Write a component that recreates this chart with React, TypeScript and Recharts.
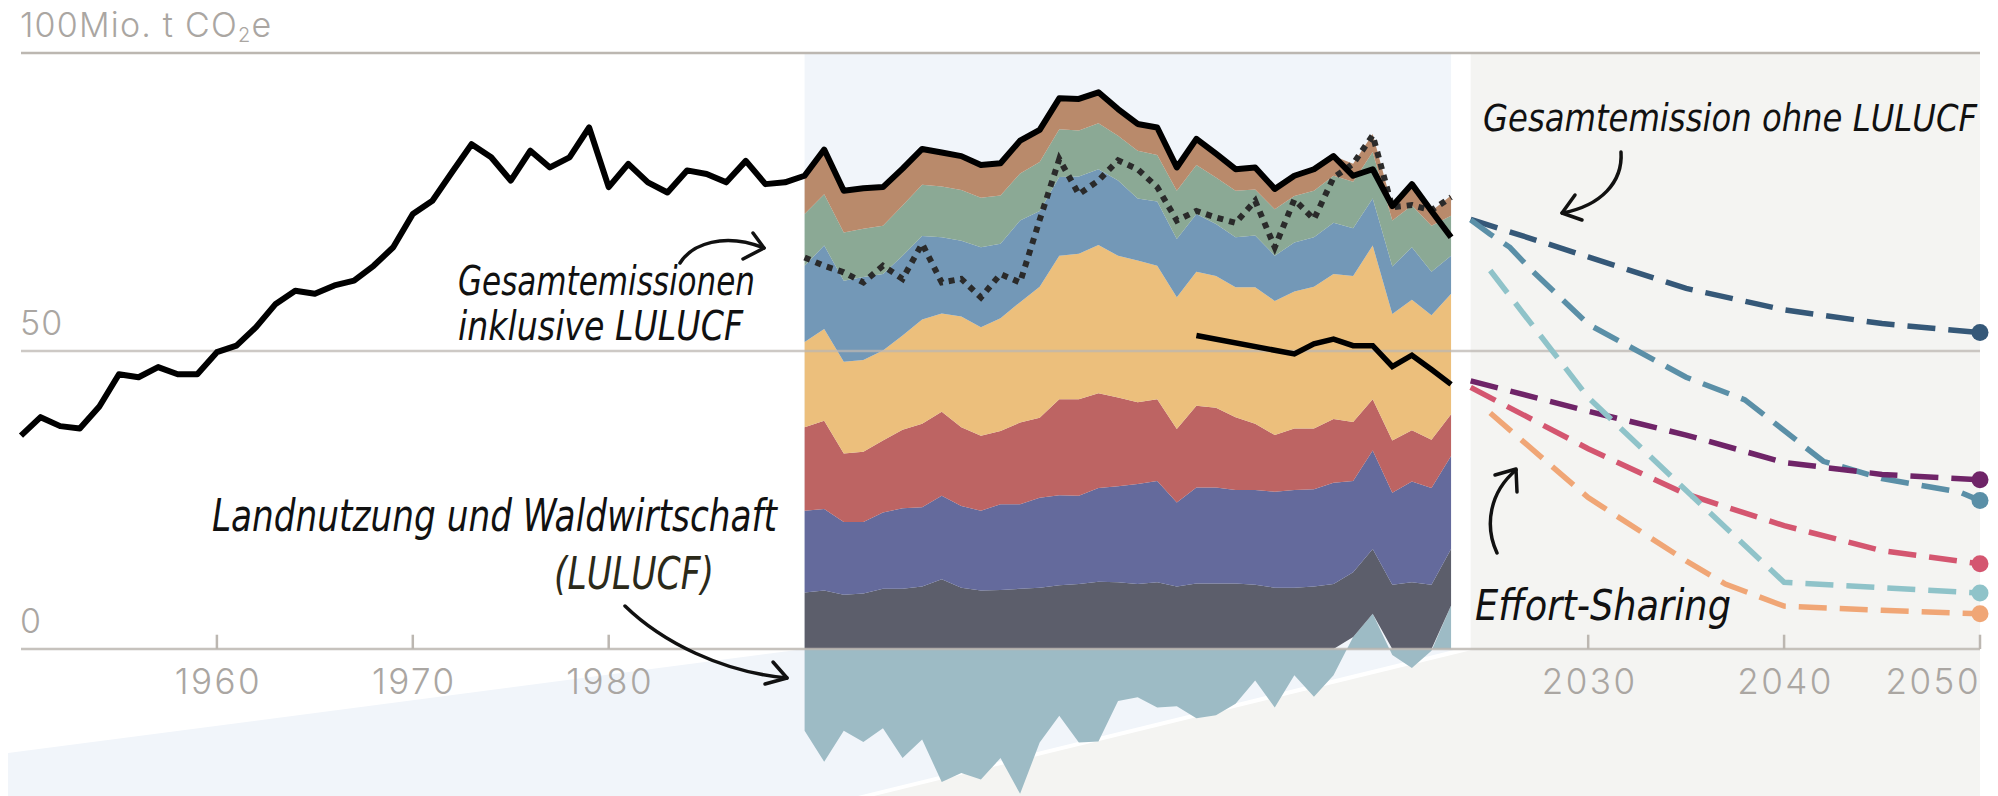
import React from "react";
import { ComposedChart, Area, Line, XAxis, YAxis, ReferenceLine } from "recharts";

const W = 1998;
const H = 796;
const margin = { top: 53, right: 18, left: 21, bottom: 0 };
const X_MIN = 1950;
const X_MAX = 2050;
const Y_MIN = -24.66;
const Y_MAX = 100;

// Gesamtemissionen ohne LULUCF, 1950–2023
const histYears = [
  1950, 1951, 1952, 1953, 1954, 1955, 1956, 1957, 1958, 1959,
  1960, 1961, 1962, 1963, 1964, 1965, 1966, 1967, 1968, 1969,
  1970, 1971, 1972, 1973, 1974, 1975, 1976, 1977, 1978, 1979,
  1980, 1981, 1982, 1983, 1984, 1985, 1986, 1987, 1988, 1989,
  1990, 1991, 1992, 1993, 1994, 1995, 1996, 1997, 1998, 1999,
  2000, 2001, 2002, 2003, 2004, 2005, 2006, 2007, 2008, 2009,
  2010, 2011, 2012, 2013, 2014, 2015, 2016, 2017, 2018, 2019,
  2020, 2021, 2022, 2023,
];
const totalExcl = [
  35.8, 38.9, 37.4, 37.0, 40.7, 46.1, 45.6, 47.3, 46.1, 46.1,
  49.8, 50.9, 54.0, 57.9, 60.1, 59.6, 61.0, 61.8, 64.3, 67.4,
  73.0, 75.2, 80.0, 84.7, 82.5, 78.6, 83.6, 80.8, 82.5, 87.5,
  77.5, 81.4, 78.3, 76.6, 80.3, 79.7, 78.3, 81.9, 78.0, 78.3,
  79.4, 83.8, 76.9, 77.3, 77.5, 80.6, 83.9, 83.3, 82.7, 81.2,
  81.5, 85.3, 87.1, 92.4, 92.3, 93.4, 90.6, 88.1, 87.5, 80.8,
  85.6, 83.1, 80.5, 80.8, 77.2, 79.4, 80.5, 82.7, 79.4, 80.5,
  74.3, 78.0, 73.5, 69.1,
];

// sectors 1990–2023 (stacked from the bottom)
const sectorStart = 1990;
const lulucf = [
  -13.7, -18.9, -13.7, -15.6, -13.3, -18.3, -15.2, -22.3, -20.8, -21.9,
  -18.3, -24.3, -15.7, -11.2, -15.7, -15.5, -8.7, -8.1, -9.8, -9.6,
  -11.6, -11.1, -9.2, -5.3, -9.8, -4.4, -8.0, -4.4, 2.0, 5.9,
  -1.0, -3.2, -0.3, 7.3,
];
const energie = [
  9.5, 9.8, 9.1, 9.3, 10.1, 10.1, 10.5, 11.7, 10.3, 9.8,
  9.9, 10.1, 10.3, 10.7, 10.9, 11.3, 11.2, 10.9, 11.2, 10.5,
  11.0, 11.0, 11.0, 10.8, 10.3, 10.3, 10.5, 10.9, 10.9, 10.9,
  10.8, 11.2, 10.8, 9.5,
];
const industrie = [
  13.7, 13.7, 12.2, 12.0, 12.8, 13.5, 13.3, 14.0, 13.7, 13.4,
  14.4, 14.2, 15.1, 15.1, 14.8, 15.7, 16.1, 16.8, 17.0, 14.1,
  16.1, 16.1, 15.7, 15.9, 16.1, 16.4, 16.3, 17.0, 15.3, 16.5,
  15.4, 16.9, 16.2, 15.6,
];
const energieIndustrie = [
  14.0, 14.8, 11.5, 11.8, 12.1, 13.2, 14.0, 14.1, 13.2, 12.6,
  12.3, 13.7, 13.4, 16.1, 16.2, 15.9, 14.9, 13.7, 13.7, 12.3,
  13.7, 13.4, 12.2, 11.1, 9.5, 10.3, 10.2, 10.7, 9.9, 8.6,
  8.8, 8.6, 8.1, 7.0,
];
const verkehr = [
  14.3, 15.4, 15.4, 15.4, 15.1, 15.8, 17.5, 16.5, 18.6, 18.2,
  18.9, 20.2, 22.0, 24.1, 24.4, 24.9, 23.8, 23.8, 22.4, 22.1,
  22.5, 22.1, 21.8, 22.9, 22.5, 23.0, 23.8, 24.3, 24.5, 25.8,
  21.2, 21.9, 20.9, 20.2,
];
const gebaeude = [
  12.8, 14.0, 13.6, 13.9, 12.8, 13.4, 14.0, 12.8, 12.7, 13.4,
  12.5, 13.7, 12.7, 13.2, 13.0, 12.7, 12.6, 10.4, 10.8, 9.8,
  9.7, 8.7, 8.4, 8.7, 7.6, 8.2, 8.3, 8.6, 8.0, 7.9,
  8.0, 8.8, 7.3, 6.4,
];
const landwirtschaft = [
  8.7, 8.6, 8.1, 8.1, 8.1, 8.4, 8.6, 8.5, 8.5, 8.3,
  8.1, 7.9, 8.2, 8.0, 7.7, 7.7, 7.5, 8.0, 7.8, 8.1,
  8.2, 7.8, 7.8, 7.7, 7.8, 7.8, 7.8, 7.9, 7.8, 7.8,
  7.7, 7.0, 7.7, 6.7,
];
const abfall = [
  6.4, 7.5, 7.0, 6.8, 6.5, 6.2, 6.0, 5.7, 5.7, 5.5,
  5.4, 5.5, 5.4, 5.3, 5.3, 5.2, 4.5, 4.5, 4.6, 3.9,
  4.4, 4.0, 3.6, 3.7, 3.4, 3.4, 3.6, 3.3, 3.0, 3.0,
  2.4, 3.6, 2.5, 3.4,
];
// Gesamtemissionen inklusive LULUCF, 1990–2023
const totalIncl = [
  65.7, 64.3, 63.2, 61.5, 64.3, 62.1, 68.0, 61.5, 62.1, 59.0,
  62.9, 61.5, 72.0, 82.2, 76.3, 78.6, 82.0, 80.5, 77.5, 71.9,
  73.5, 72.4, 71.5, 75.2, 67.4, 75.4, 72.1, 79.1, 81.4, 86.2,
  74.1, 74.5, 73.6, 75.8,
];
// Effort-Sharing, tatsächlich
const esrYears = [2010, 2015, 2016, 2017, 2018, 2019, 2020, 2021, 2022, 2023];
const esrValues = [52.6, 49.5, 51.2, 52.0, 50.9, 50.9, 47.4, 49.3, 46.9, 44.4];

// Szenarien 2024–2050
const projNavyYears = [2024, 2030, 2035, 2040, 2045, 2050];
const projNavy = [72.1, 65.8, 60.5, 56.9, 54.6, 53.1];
const projSteelYears = [2024, 2025, 2026, 2027, 2030, 2035, 2038, 2042, 2045, 2049, 2050];
const projSteel = [72.0, 69.6, 67.4, 63.9, 54.5, 45.6, 41.8, 31.5, 28.6, 26.3, 24.9];
const projPurpleYears = [2024, 2030, 2035, 2040, 2045, 2050];
const projPurple = [45.0, 39.9, 35.9, 31.3, 29.3, 28.4];
const projPinkYears = [2024, 2030, 2035, 2040, 2045, 2050];
const projPink = [43.9, 33.6, 26.0, 20.7, 16.5, 14.3];
const projTealYears = [2025, 2030, 2035, 2040, 2045, 2050];
const projTeal = [63.5, 42.2, 26.6, 11.2, 10.3, 9.4];
const projOrangeYears = [2025, 2030, 2035, 2037, 2040, 2045, 2050];
const projOrange = [39.6, 25.4, 14.8, 10.9, 7.2, 6.5, 5.9];

const tickYears = [1960, 1970, 1980, 2030, 2040, 2050];

const sectors = [
  { key: "lulucf", values: lulucf, color: "#9dbbc5" },
  { key: "energie", values: energie, color: "#5c5e6b" },
  { key: "industrie", values: industrie, color: "#646a9c" },
  { key: "energieIndustrie", values: energieIndustrie, color: "#bd6463" },
  { key: "verkehr", values: verkehr, color: "#ecbf7c" },
  { key: "gebaeude", values: gebaeude, color: "#7398b7" },
  { key: "landwirtschaft", values: landwirtschaft, color: "#8ba995" },
  { key: "abfall", values: abfall, color: "#b98a6b" },
];

const data = histYears.map((year, i) => {
  const row: Record<string, number | null> = { year, total: totalExcl[i] };
  const j = year - sectorStart;
  const inRange = j >= 0 && j < lulucf.length;
  sectors.forEach((s) => {
    row[s.key] = inRange ? s.values[j] : null;
  });
  row.incl = inRange ? totalIncl[j] : null;
  const e = esrYears.indexOf(year);
  row.esr = e >= 0 ? esrValues[e] : null;
  return row;
});

const toRows = (years: number[], values: number[]) =>
  years.map((year, i) => ({ year, value: values[i] }));

const projections = [
  { key: "navy", rows: toRows(projNavyYears, projNavy), color: "#355878" },
  { key: "steel", rows: toRows(projSteelYears, projSteel), color: "#5a8fa7" },
  { key: "purple", rows: toRows(projPurpleYears, projPurple), color: "#6f2468" },
  { key: "pink", rows: toRows(projPinkYears, projPink), color: "#d45670" },
  { key: "teal", rows: toRows(projTealYears, projTeal), color: "#8fc3c9" },
  { key: "orange", rows: toRows(projOrangeYears, projOrange), color: "#f0a676" },
];

const AXIS_FONT = "Inter, 'Noto Sans', sans-serif";
const AXIS_COLOR = "#aaa6a2";
const GRID_COLOR = "#bcb7b1";
const HAND_FONT = "'DejaVu Sans Condensed', 'Liberation Sans Narrow', 'DejaVu Sans', sans-serif";

// pixel helpers for the decorative background panels only
const plotW = W - margin.left - margin.right;
const plotH = H - margin.top - margin.bottom;
const px = (yr: number) => margin.left + ((yr - X_MIN) / (X_MAX - X_MIN)) * plotW;
const py = (v: number) => margin.top + ((Y_MAX - v) / (Y_MAX - Y_MIN)) * plotH;

const endDot = (color: string) => (props: any) => {
  const { cx, cy, payload, index } = props;
  if (!payload || payload.year !== 2050) return <g key={`dot-${index}`} />;
  return <circle key={`dot-${index}`} cx={cx} cy={cy} r={8.5} fill={color} />;
};

const yLabel = (content: React.ReactNode) => (props: any) => {
  const vb = props.viewBox || {};
  return (
    <text
      x={(vb.x ?? margin.left) - 1}
      y={(vb.y ?? 0) - 16}
      fill={AXIS_COLOR}
      fontFamily={AXIS_FONT}
      fontWeight={300}
      fontSize={34}
      letterSpacing={1.2}
    >
      {content}
    </text>
  );
};

const tickLabel = (year: number, last: boolean) => (props: any) => {
  const vb = props.viewBox || {};
  return (
    <text
      x={last ? vb.x + 1 : vb.x + 1.5}
      y={(vb.y ?? 0) + (vb.height ?? 0) + 45}
      textAnchor={last ? "end" : "middle"}
      fill={AXIS_COLOR}
      fontFamily={AXIS_FONT}
      fontWeight={300}
      fontSize={35}
      letterSpacing={2.5}
    >
      {year}
    </text>
  );
};

function Background() {
  const baseY = py(0);
  const topY = py(100);
  return (
    <svg width={W} height={H} style={{ position: "absolute", left: 0, top: 0 }}>
      <rect x={px(1990)} y={topY} width={px(2023) - px(1990)} height={baseY - topY} fill="#f1f5fa" />
      <rect x={px(2024)} y={topY} width={px(2050) - px(2024)} height={baseY - topY} fill="#f4f4f2" />
      <polygon
        points={`8,753 ${px(1990)},${baseY} 1458,${baseY} 858,${H} 8,${H}`}
        fill="#f1f5fa"
      />
      <polygon
        points={`1476,${baseY} ${px(2050)},${baseY} ${px(2050)},${H} 874,${H}`}
        fill="#f4f4f2"
      />
    </svg>
  );
}

function Arrow({ d, head }: { d: string; head: string }) {
  return (
    <g fill="none" stroke="#111" strokeWidth={3.5} strokeLinecap="round" strokeLinejoin="round">
      <path d={d} />
      <path d={head} />
    </g>
  );
}

function Annotations() {
  const hand = { fontFamily: HAND_FONT, fontStyle: "italic" as const, fill: "#111", fontWeight: 500 };
  return (
    <svg width={W} height={H} style={{ position: "absolute", left: 0, top: 0 }}>
      <text x={1483} y={131} fontSize={37} textLength={494} lengthAdjust="spacingAndGlyphs" {...hand}>
        Gesamtemission ohne LULUCF
      </text>
      <Arrow d="M1621,152 C1623,182 1601,206 1562,213" head="M1575,195 L1562,213 L1582,220" />

      <text x={458} y={295} fontSize={40} textLength={297} lengthAdjust="spacingAndGlyphs" {...hand}>
        Gesamtemissionen
      </text>
      <text x={458} y={340} fontSize={40} textLength={285} lengthAdjust="spacingAndGlyphs" {...hand}>
        inklusive LULUCF
      </text>
      <Arrow d="M680,263 C692,244 724,232 764,248" head="M753,233 L764,248 L743,259" />

      <text x={1475} y={620} fontSize={42} textLength={256} lengthAdjust="spacingAndGlyphs" {...hand}>
        Effort-Sharing
      </text>
      <Arrow d="M1497,553 C1484,525 1490,492 1516,470" head="M1495,475 L1516,469 L1517,492" />

      <text x={212} y={531} fontSize={44} textLength={565} lengthAdjust="spacingAndGlyphs" {...hand}>
        Landnutzung und Waldwirtschaft
      </text>
      <text
        x={554}
        y={589}
        fontSize={44}
        textLength={160}
        lengthAdjust="spacingAndGlyphs"
        {...hand}
        fill="#2b2a1a"
      >
        (LULUCF)
      </text>
      <Arrow d="M625,606 C662,642 722,672 787,678" head="M773,662 L787,678 L765,684" />
    </svg>
  );
}

export default function App() {
  return (
    <div style={{ position: "absolute", left: 0, top: 0, width: W, height: H, background: "#fff", overflow: "hidden" }}>
      <Background />
      <div style={{ position: "absolute", left: 0, top: 0 }}>
        <ComposedChart width={W} height={H} data={data} margin={margin} stackOffset="sign">
          <XAxis dataKey="year" type="number" domain={[X_MIN, X_MAX]} hide />
          <YAxis type="number" domain={[Y_MIN, Y_MAX]} hide />

          {sectors.map((s) => (
            <Area
              key={s.key}
              dataKey={s.key}
              stackId="sektoren"
              type="linear"
              stroke="none"
              fill={s.color}
              fillOpacity={1}
              isAnimationActive={false}
              activeDot={false}
            />
          ))}

          <ReferenceLine y={100} stroke={GRID_COLOR} strokeWidth={2.5} label={yLabel(
            <>
              100Mio. t CO
              <tspan fontSize={20} dy={5}>2</tspan>
              <tspan dy={-5}>e</tspan>
            </>
          )} />
          <ReferenceLine y={50} stroke={GRID_COLOR} strokeOpacity={0.75} strokeWidth={2.5} label={yLabel("50")} />
          <ReferenceLine y={0} stroke={GRID_COLOR} strokeOpacity={0.85} strokeWidth={2.5} label={yLabel("0")} />
          {tickYears.map((t, i) => (
            <ReferenceLine
              key={`tick-${t}`}
              segment={[{ x: t, y: 0 }, { x: t, y: 2.4 }]}
              stroke={GRID_COLOR}
              strokeWidth={2.5}
              label={tickLabel(t, i === tickYears.length - 1)}
            />
          ))}

          <Line
            dataKey="incl"
            type="linear"
            stroke="#2a2a2a"
            strokeWidth={6}
            strokeDasharray="6 6"
            dot={false}
            activeDot={false}
            isAnimationActive={false}
          />
          <Line
            dataKey="total"
            type="linear"
            stroke="#000"
            strokeWidth={6}
            strokeLinejoin="round"
            dot={false}
            activeDot={false}
            isAnimationActive={false}
          />
          <Line
            dataKey="esr"
            type="linear"
            stroke="#000"
            strokeWidth={5.5}
            connectNulls
            dot={false}
            activeDot={false}
            isAnimationActive={false}
          />

          {projections.map((p) => (
            <Line
              key={p.key}
              data={p.rows}
              dataKey="value"
              type="linear"
              stroke={p.color}
              strokeWidth={5.5}
              strokeDasharray="28 13"
              dot={endDot(p.color)}
              activeDot={false}
              isAnimationActive={false}
            />
          ))}
        </ComposedChart>
      </div>
      <Annotations />
    </div>
  );
}
